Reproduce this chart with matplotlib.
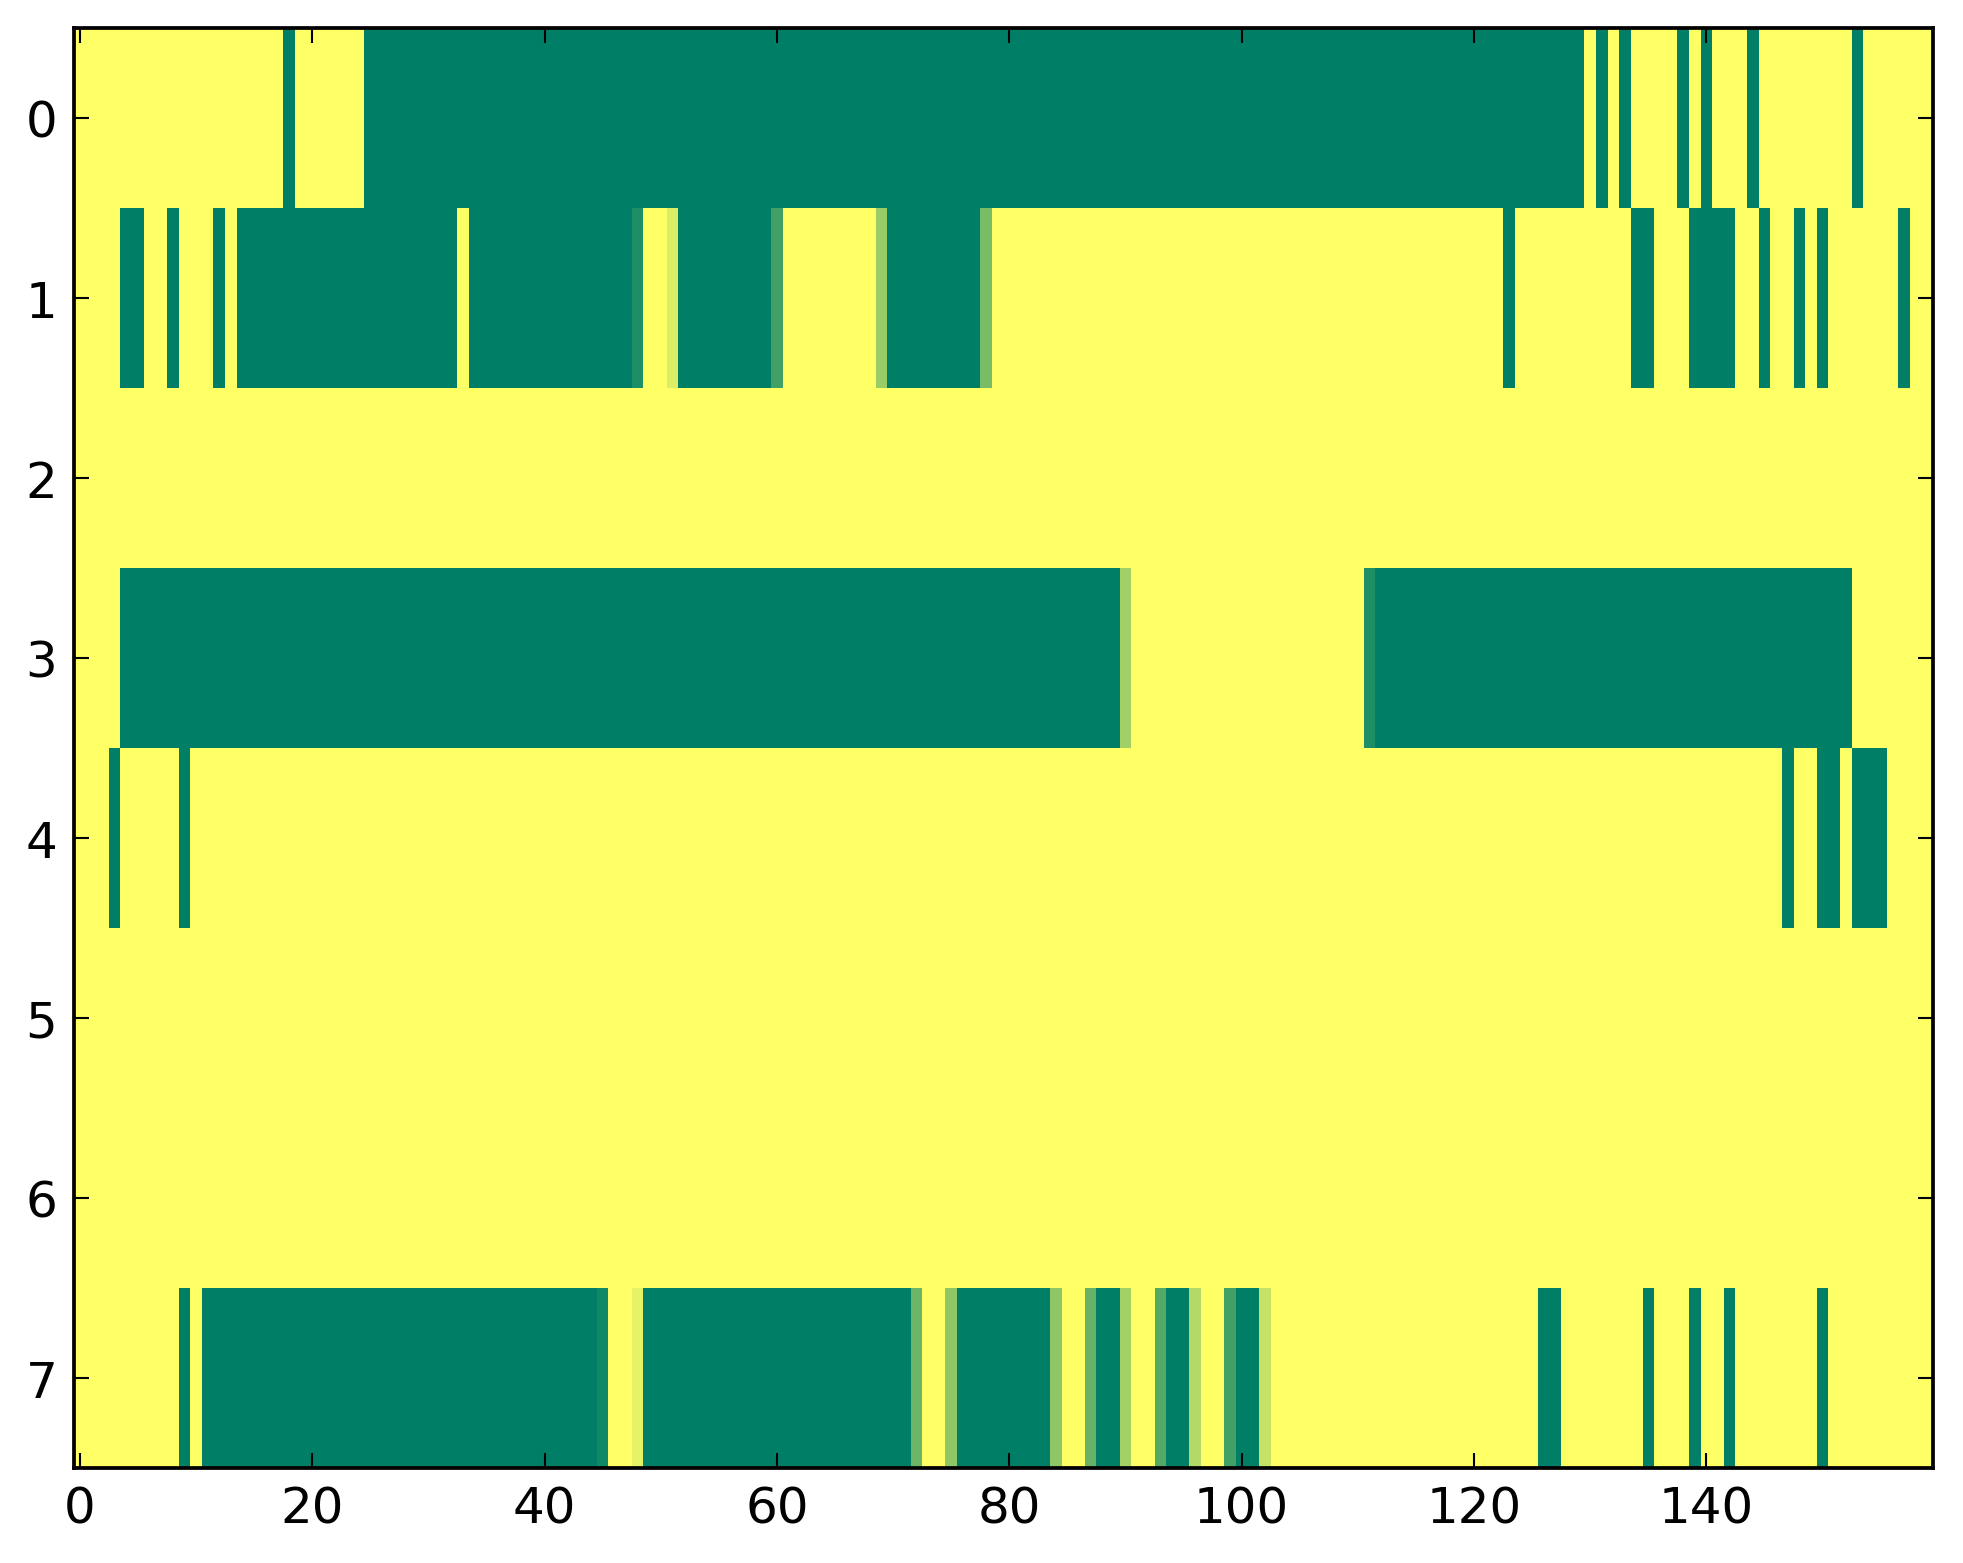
import numpy as np
import matplotlib
matplotlib.use('Agg')
import matplotlib.pyplot as plt

n_rows = 8
n_cols = 160

# green runs (value 0) per row, inclusive column ranges
green_runs = {
    0: [(18, 18), (25, 129), (131, 131), (133, 133), (138, 138), (140, 140),
        (144, 144), (153, 153)],
    1: [(4, 5), (8, 8), (12, 12), (14, 32), (34, 47), (52, 59), (70, 77),
        (123, 123), (134, 135), (139, 142), (145, 145), (148, 148),
        (150, 150), (157, 157)],
    2: [],
    3: [(4, 89), (112, 152)],
    4: [(3, 3), (9, 9), (147, 147), (150, 151), (153, 155)],
    5: [],
    6: [],
    7: [(9, 9), (11, 44), (49, 71), (76, 83), (88, 89), (94, 95),
        (100, 101), (126, 127), (135, 135), (139, 139), (142, 142),
        (150, 150)],
}

# cells with in-between values
partial_cells = {
    1: {48: 0.12, 51: 0.86, 60: 0.26, 69: 0.60, 78: 0.48},
    3: {90: 0.63, 111: 0.12},
    7: {45: 0.07, 48: 0.90, 72: 0.42, 75: 0.56, 84: 0.56, 87: 0.40,
        90: 0.64, 93: 0.33, 96: 0.70, 99: 0.26, 102: 0.77},
}

grid = np.ones((n_rows, n_cols))
for row, runs in green_runs.items():
    for a, b in runs:
        grid[row, a:b + 1] = 0.0
for row, cells in partial_cells.items():
    for col, v in cells.items():
        grid[row, col] = v

plt.rcParams['font.family'] = 'DejaVu Sans'
plt.rcParams['font.size'] = 12

fig = plt.figure(figsize=(1963 / 300, 1564 / 300), dpi=300)
ax = fig.add_axes([74 / 1963, 1 - 1469 / 1564, (1933 - 74) / 1963, (1469 - 29) / 1564])
ax.imshow(grid, cmap='summer', aspect='auto', interpolation='nearest', vmin=0, vmax=1)

ax.set_xticks(np.arange(0, 141, 20))
ax.set_yticks(np.arange(0, 8))
ax.tick_params(direction='in', top=True, right=True, length=3.6, width=0.5,
               pad=4, labelsize=12)
for sp in ax.spines.values():
    sp.set_linewidth(0.9)

fig.savefig('out.png', dpi=300, facecolor='white')
